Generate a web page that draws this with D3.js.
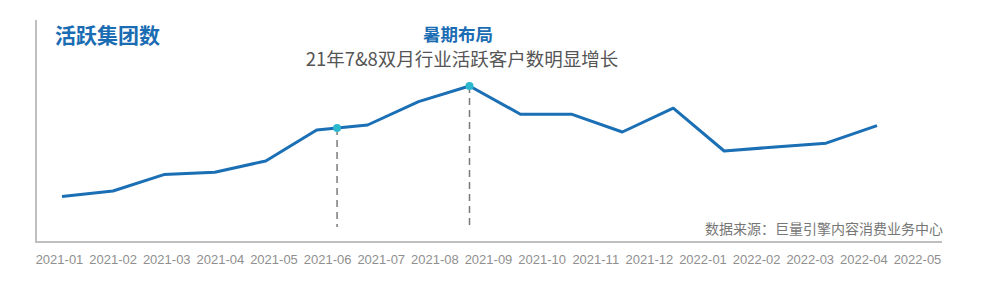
<!DOCTYPE html>
<html>
<head>
<meta charset="utf-8">
<script src="https://cdn.jsdelivr.net/npm/d3@7"></script>
<style>
  html, body { margin: 0; padding: 0; background: #fff; }
</style>
</head>
<body>
<div id="chart"></div>
<script>
// 活跃集团数 line chart

const months = ["2021-01","2021-02","2021-03","2021-04","2021-05","2021-06","2021-07","2021-08",
                "2021-09","2021-10","2021-11","2021-12","2022-01","2022-02","2022-03","2022-04","2022-05"]
const active = [19.7, 22.5, 30.7, 31.9, 37.5, 53, 55.5, 67.2, 75, 60.9, 60.9, 52, 63.9, 42.5, 44.5, 46.4, 55.2]
// annotation markers, as fractional position along the line
const marks = [5.4, 8]

const title = "活跃集团数"
const noteTitle = "暑期布局"
const noteText = "21年7&8双月行业活跃客户数明显增长"
const source = "数据来源：巨量引擎内容消费业务中心"

const W = 989, H = 286
const cjk = "'Noto Sans CJK SC', 'Noto Sans', sans-serif"

const svg = d3.select("#chart").append("svg")
    .attr("width", W).attr("height", H)
    .style("display", "block")

const xLine = d3.scalePoint().domain(months).range([62, 877])
const xLab = d3.scalePoint().domain(months).range([59, 917])
const y = d3.scaleLinear().domain([0, 100]).range([236, 36])

// axes frame
svg.append("line").attr("x1", 36).attr("x2", 36).attr("y1", 20).attr("y2", 242)
    .attr("stroke", "#bfbfbf").attr("stroke-width", 2)

const xAxis = svg.append("g").attr("transform", "translate(0,242)")
    .call(d3.axisBottom(xLab).tickSize(0).tickPadding(13))
xAxis.select(".domain").remove()
xAxis.append("line").attr("x1", 35).attr("x2", 942)
    .attr("stroke", "#bfbfbf").attr("stroke-width", 2)
xAxis.selectAll("text")
    .attr("fill", "#8f8f8f")
    .style("font-family", "'Liberation Sans', Arial, sans-serif")
    .style("font-size", "13px")

// helper: position along the line for fractional index
function posAt(t) {
    const i = Math.floor(t), f = t - i
    const x0 = xLine(months[i]), x1 = xLine(months[Math.min(i + 1, months.length - 1)])
    const v = active[i] + f * ((active[i + 1] ?? active[i]) - active[i])
    return [x0 + f * (x1 - x0), y(v)]
}

// dashed guide lines
svg.selectAll(".guide").data(marks).join("line")
    .attr("class", "guide")
    .attr("x1", d => posAt(d)[0]).attr("x2", d => posAt(d)[0])
    .attr("y1", d => posAt(d)[1]).attr("y2", 227)
    .attr("stroke", "#7a7a7a").attr("stroke-width", 1.5)
    .attr("stroke-dasharray", "7,5")

// main line
const line = d3.line()
    .x((d, i) => xLine(months[i]))
    .y(d => y(d))

svg.append("path").datum(active)
    .attr("d", line)
    .attr("fill", "none")
    .attr("stroke", "#1a6fb5")
    .attr("stroke-width", 3)
    .attr("stroke-linejoin", "round")

svg.selectAll(".dot").data(marks).join("circle")
    .attr("class", "dot")
    .attr("cx", d => posAt(d)[0]).attr("cy", d => posAt(d)[1])
    .attr("r", 4)
    .attr("fill", "#2bb8cf")

// texts
svg.append("text").text(title)
    .attr("x", 55).attr("y", 43)
    .attr("fill", "#1a6cb3")
    .style("font-family", cjk).style("font-weight", "bold").style("font-size", "21px")

svg.append("text").text(noteTitle)
    .attr("x", 458).attr("y", 41).attr("text-anchor", "middle")
    .attr("fill", "#1a6cb3")
    .style("font-family", cjk).style("font-weight", "bold").style("font-size", "17.5px")

svg.append("text").text(noteText)
    .attr("x", 462).attr("y", 66).attr("text-anchor", "middle")
    .attr("fill", "#555")
    .style("font-family", cjk).style("font-size", "18.5px")

svg.append("text").text(source)
    .attr("x", 943).attr("y", 234).attr("text-anchor", "end")
    .attr("fill", "#777")
    .style("font-family", cjk).style("font-size", "14px")
</script>
</body>
</html>
